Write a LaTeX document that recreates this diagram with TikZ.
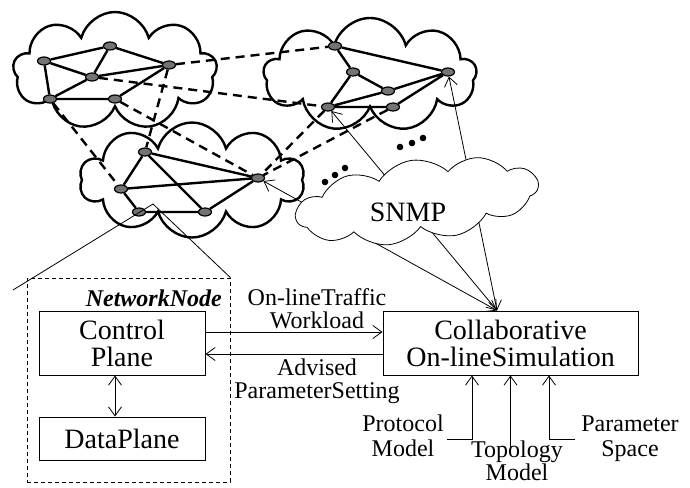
\documentclass[tikz,border=0pt]{standalone}
\usepackage{fontspec}
\setmainfont{Liberation Serif}
\usetikzlibrary{shapes.geometric,shapes.symbols,arrows.meta}
\begin{document}
\begin{tikzpicture}[x=1pt,y=-1pt,
  netcloud/.style={cloud, cloud puffs=9, cloud ignores aspect, draw, line width=2.4pt, fill=white, inner sep=0pt},
  nd/.style={ellipse, draw, fill=black!55, line width=1.2pt, minimum width=13pt, minimum height=8pt, inner sep=0pt},
  ed/.style={line width=2.4pt},
  dl/.style={line width=2.4pt, dash pattern=on 9pt off 6pt},
  arr/.style={line width=0.8pt, -{Straight Barb[length=9pt,width=13pt]}},
  darr/.style={line width=0.8pt, {Straight Barb[length=9pt,width=13pt]}-{Straight Barb[length=9pt,width=13pt]}},
  thin/.style={line width=0.8pt},
  box/.style={draw, line width=1pt, inner sep=0pt, font=\fontsize{28}{27}\selectfont, align=center},
  lab/.style={font=\fontsize{24}{23}\selectfont, align=center, inner sep=0pt},
]
\useasboundingbox (0,0) rectangle (690,487);

% network clouds
\node[netcloud, minimum width=204pt, minimum height=118pt] (cl1) at (115,71) {};
\node[netcloud, minimum width=213pt, minimum height=114pt] (cl2) at (370,75) {};
\node[netcloud, cloud puffs=10, minimum width=225pt, minimum height=115pt] (cl3) at (192,180) {};

% network nodes
\node[nd] (A1) at (44,61) {};
\node[nd] (A2) at (110,46) {};
\node[nd] (A3) at (169,65) {};
\node[nd] (A4) at (92,77) {};
\node[nd] (A5) at (50,99) {};
\node[nd] (A6) at (115,99) {};
\node[nd] (B1) at (335,46) {};
\node[nd] (B2) at (353,72) {};
\node[nd] (B3) at (448,72) {};
\node[nd] (B4) at (388,91) {};
\node[nd] (B5) at (328,107) {};
\node[nd] (B6) at (393,107) {};
\node[nd] (C1) at (145,152) {};
\node[nd] (C2) at (121,189) {};
\node[nd] (C3) at (258,178) {};
\node[nd] (C4) at (139,212) {};
\node[nd] (C5) at (205,212) {};

% intra-cloud links
\draw[ed] (A1)--(A2) (A2)--(A3) (A1)--(A4) (A4)--(A3) (A2)--(A4) (A4)--(A5) (A1)--(A5) (A5)--(A6) (A6)--(A3);
\draw[ed] (B1)--(B3) (B1)--(B2) (B2)--(B4) (B4)--(B3) (B2)--(B5) (B5)--(B4) (B5)--(B6) (B6)--(B3);
\draw[ed] (C1)--(C2) (C1)--(C3) (C1)--(C5) (C2)--(C3) (C2)--(C4) (C4)--(C5) (C5)--(C3);

% inter-cloud links
\draw[dl] (A3)--(B1) (A4)--(B5) (A5)--(C2) (A6)--(C3) (A3)--(C1) (B5)--(C3) (B6)--(C3);

% dots
\fill (400,147) circle (3.3) (412,143) circle (3.3) (423,138) circle (3.3);
\fill (325,182) circle (3.3) (335,175) circle (3.3) (345,168) circle (3.3);

% boxes
\node[box, minimum width=255pt, minimum height=64pt] (collab) at (510.5,343) {Collaborative\\On-lineSimulation};
\node[box, minimum width=166pt, minimum height=64pt] (ctrl) at (122,343) {Control\\Plane};
\node[box, minimum width=166pt, minimum height=43pt] (data) at (122,438.5) {DataPlane};
\node[draw, thin, dash pattern=on 4pt off 3pt, minimum width=203pt, minimum height=204pt, inner sep=0pt] (nn) at (128.5,380) {};
\node[anchor=east, inner sep=0pt, font=\fontsize{24}{24}\selectfont\bfseries\itshape] (nnlab) at (222,298) {NetworkNode};

% callout
\coordinate (apex) at (153,204);
\coordinate (cl) at (13,290);
\draw[thin] (cl) -- (apex) -- (nn.north east);

% SNMP links
\coordinate (ct) at ([xshift=-13.5pt]collab.north);
\draw[darr] (ct) -- (C3);
\draw[darr] (ct) -- (B5);
\draw[darr] (ct) -- (B3);

% SNMP cloud
\node[cloud, cloud puffs=11, cloud puff arc=100, cloud ignores aspect, draw, thin, fill=white, minimum width=244pt, minimum height=82pt, rotate=8] (snmp) at (417,201) {};
\node[font=\fontsize{28}{28}\selectfont, inner sep=0pt] (snmplab) at (408,212) {SNMP};

% control <-> collab
\draw[arr] ([yshift=11pt]ctrl.east) -- ([yshift=11pt]collab.west);
\draw[arr] ([yshift=-11pt]collab.west) -- ([yshift=-11pt]ctrl.east);
\draw[darr] ([xshift=-7pt]ctrl.south) -- ([xshift=-7pt]data.north);
\node[lab] (l1) at (317,308.5) {On-lineTraffic\\Workload};
\node[lab] (l2) at (317,381) {Advised\\ParameterSetting};

% inputs
\coordinate (pm) at (447,439);
\coordinate (tm) at (510.5,447);
\coordinate (ps) at (575,439);
\draw[arr] (pm) -| ([xshift=-38.5pt]collab.south);
\draw[arr] (tm) -- (collab.south);
\draw[arr] (ps) -| ([xshift=38.5pt]collab.south);
\node[lab, font=\fontsize{24}{25}\selectfont] (lp) at (403,436) {Protocol\\Model};
\node[lab, font=\fontsize{24}{21}\selectfont] (lt) at (517,461) {Topology\\Model};
\node[lab, font=\fontsize{24}{25}\selectfont] (lps) at (630,439) {Parameter\\Space};
\end{tikzpicture}
\end{document}
